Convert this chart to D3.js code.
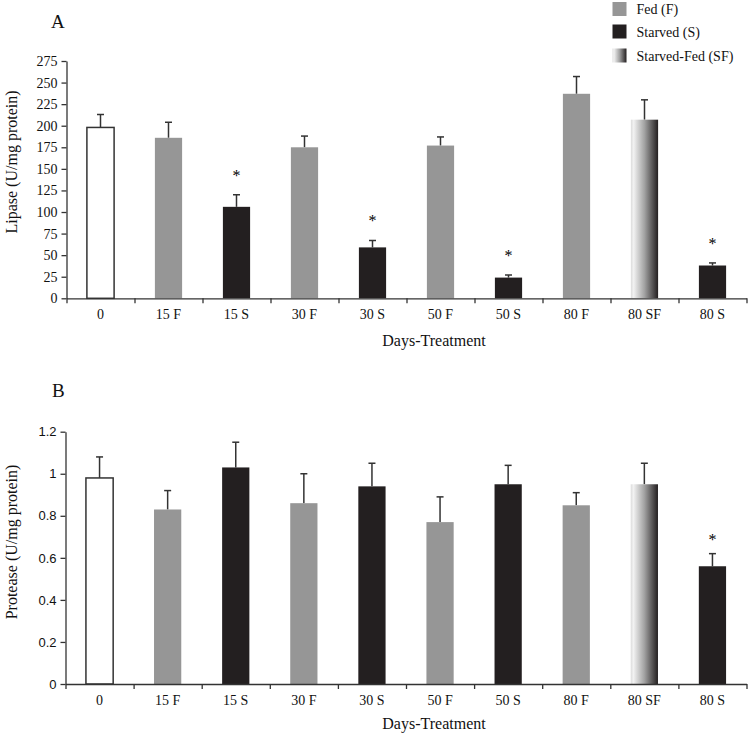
<!DOCTYPE html>
<html>
<head>
<meta charset="utf-8">
<script src="https://cdn.jsdelivr.net/npm/d3@7"></script>
<style>
  html, body { margin: 0; padding: 0; background: #fff; }
  svg { display: block; }
</style>
</head>
<body>
<svg id="chart" width="750" height="735"></svg>
<script>
// ---------------- data ----------------
const categories = ["0", "15 F", "15 S", "30 F", "30 S", "50 F", "50 S", "80 F", "80 SF", "80 S"];
const groups     = ["C", "F", "S", "F", "S", "F", "S", "F", "SF", "S"];

const lipaseMean = [198, 186, 106, 175, 59, 177, 24, 237, 207, 38];
const lipaseErr  = [15, 18, 14, 13, 8, 10, 3, 20, 23, 3];
const lipaseSig  = [0, 0, 1, 0, 1, 0, 1, 0, 0, 1];
const lipaseTicks = [0, 25, 50, 75, 100, 125, 150, 175, 200, 225, 250, 275];

const proteaseMean = [0.98, 0.83, 1.03, 0.86, 0.94, 0.77, 0.95, 0.85, 0.95, 0.56];
const proteaseErr  = [0.10, 0.09, 0.12, 0.14, 0.11, 0.12, 0.09, 0.06, 0.10, 0.06];
const proteaseSig  = [0, 0, 0, 0, 0, 0, 0, 0, 0, 1];
const proteaseTicks = [0, 0.2, 0.4, 0.6, 0.8, 1, 1.2];

const legendLabels = ["Fed (F)", "Starved (S)", "Starved-Fed (SF)"];
const legendGroups = ["F", "S", "SF"];

// ---------------- styles ----------------
const SERIF = "'Liberation Serif', 'Times New Roman', serif";
const SANS = "'Liberation Sans', Arial, sans-serif";
const GRAY = "#969696";
const BLACK = "#231f20";
const AXIS = "#333333";

const svg = d3.select("#chart");
const defs = svg.append("defs");
const grad = defs.append("linearGradient").attr("id", "sfGrad")
  .attr("x1", "0%").attr("x2", "100%").attr("y1", "0%").attr("y2", "0%");
grad.append("stop").attr("offset", "0%").attr("stop-color", "#dcdcdc");
grad.append("stop").attr("offset", "10%").attr("stop-color", "#f2f2f2");
grad.append("stop").attr("offset", "50%").attr("stop-color", "#a2a2a2");
grad.append("stop").attr("offset", "100%").attr("stop-color", "#231f20");

function fillFor(g) {
  if (g === "C") return "#ffffff";
  if (g === "F") return GRAY;
  if (g === "S") return BLACK;
  return "url(#sfGrad)";
}

function drawPanel(cfg) {
  const n = categories.length;
  const x = d3.scaleBand().domain(categories).range(cfg.xRange).paddingInner(0).paddingOuter(0);
  const xi = d3.scaleLinear().domain([0, n]).range(cfg.xRange);
  const y = d3.scaleLinear().domain(cfg.yDomain).range(cfg.yRange);
  const barW = x.bandwidth() * 0.4;
  const g = svg.append("g");

  const data = categories.map((c, i) => ({
    c, grp: groups[i], v: cfg.mean[i], e: cfg.err[i], s: cfg.sig[i]
  }));

  // error bars (upward only)
  const eb = g.append("g");
  data.forEach(d => {
    const cx = x(d.c) + x.bandwidth() / 2;
    eb.append("line").attr("x1", cx).attr("x2", cx)
      .attr("y1", y(d.v)).attr("y2", y(d.v + d.e))
      .attr("stroke", AXIS).attr("stroke-width", 1.5);
    eb.append("line").attr("x1", cx - 3.5).attr("x2", cx + 3.5)
      .attr("y1", y(d.v + d.e)).attr("y2", y(d.v + d.e))
      .attr("stroke", AXIS).attr("stroke-width", 1.5);
  });

  // bars
  g.append("g").selectAll("rect").data(data).join("rect")
    .attr("x", d => x(d.c) + (x.bandwidth() - barW) / 2)
    .attr("width", barW)
    .attr("y", d => y(d.v))
    .attr("height", d => y(0) - y(d.v))
    .attr("fill", d => fillFor(d.grp))
    .attr("stroke", d => d.grp === "C" ? AXIS : "none")
    .attr("stroke-width", 1.5);

  // significance stars
  g.append("g").selectAll("text").data(data.filter(d => d.s)).join("text")
    .attr("x", d => x(d.c) + x.bandwidth() / 2)
    .attr("y", d => y(d.v + d.e) - cfg.starGap)
    .attr("text-anchor", "middle")
    .attr("font-family", SERIF).attr("font-size", 16).attr("fill", "#000")
    .text("*");

  // y axis
  const ya = g.append("g").attr("transform", `translate(${cfg.xRange[0]},0)`)
    .call(d3.axisLeft(y).tickValues(cfg.ticks).tickSize(5).tickSizeOuter(0).tickPadding(4)
      .tickFormat(cfg.tickFmt));
  ya.select(".domain").attr("stroke", AXIS).attr("stroke-width", 1.3);
  ya.selectAll(".tick line").attr("stroke", AXIS).attr("stroke-width", 1.3);
  ya.selectAll(".tick text").attr("font-family", cfg.tickFont).attr("font-size", cfg.tickSize).attr("fill", "#111");

  // x axis : boundary ticks
  const xa = g.append("g").attr("transform", `translate(0,${y(0)})`)
    .call(d3.axisBottom(xi).ticks(n).tickFormat("").tickSize(5).tickSizeOuter(0));
  xa.select(".domain").attr("stroke", AXIS).attr("stroke-width", 1.3);
  xa.selectAll(".tick line").attr("stroke", AXIS).attr("stroke-width", 1.3);

  // x axis : category labels
  const xl = g.append("g").attr("transform", `translate(0,${y(0)})`)
    .call(d3.axisBottom(x).tickSize(0).tickPadding(cfg.labelPad));
  xl.select(".domain").remove();
  xl.selectAll(".tick text").attr("font-family", SERIF).attr("font-size", 14).attr("fill", "#111");

  // axis titles
  g.append("text").attr("x", 434).attr("y", y(0) + cfg.titleGap)
    .attr("text-anchor", "middle").attr("font-family", SERIF).attr("font-size", 16).attr("fill", "#111")
    .text("Days-Treatment");
  g.append("text").attr("transform", `translate(${cfg.yLabelX},${cfg.yLabelY}) rotate(-90)`)
    .attr("text-anchor", "middle").attr("dominant-baseline", "central")
    .attr("font-family", SERIF).attr("font-size", 16).attr("fill", "#111")
    .text(cfg.yLabel);
  g.append("text").attr("x", cfg.letterX).attr("y", cfg.letterY)
    .attr("font-family", SERIF).attr("font-size", 19).attr("fill", "#111")
    .text(cfg.letter);
}

drawPanel({
  xRange: [66.5, 746.5], yRange: [298.3, 61], yDomain: [0, 275],
  mean: lipaseMean, err: lipaseErr, sig: lipaseSig, ticks: lipaseTicks,
  tickFmt: d3.format("d"), tickFont: SERIF, tickSize: 14,
  starGap: 14, labelPad: 11, titleGap: 48,
  yLabel: "Lipase (U/mg protein)", yLabelX: 11, yLabelY: 162,
  letter: "A", letterX: 51, letterY: 28
});

drawPanel({
  xRange: [65.5, 746.5], yRange: [684, 431.7], yDomain: [0, 1.2],
  mean: proteaseMean, err: proteaseErr, sig: proteaseSig, ticks: proteaseTicks,
  tickFmt: d => d3.format("~g")(d), tickFont: SANS, tickSize: 13,
  starGap: 9, labelPad: 11, titleGap: 45,
  yLabel: "Protease (U/mg protein)", yLabelX: 11, yLabelY: 542,
  letter: "B", letterX: 52, letterY: 397
});

// legend
const lg = svg.append("g");
legendLabels.forEach((lab, i) => {
  const cy = [9, 31.5, 55.5][i];
  lg.append("rect").attr("x", 612.5).attr("y", cy - 7).attr("width", 14).attr("height", 14)
    .attr("fill", fillFor(legendGroups[i]));
  lg.append("text").attr("x", 636.5).attr("y", cy + 5)
    .attr("font-family", SERIF).attr("font-size", 14).attr("fill", "#111").text(lab);
});
</script>
</body>
</html>
